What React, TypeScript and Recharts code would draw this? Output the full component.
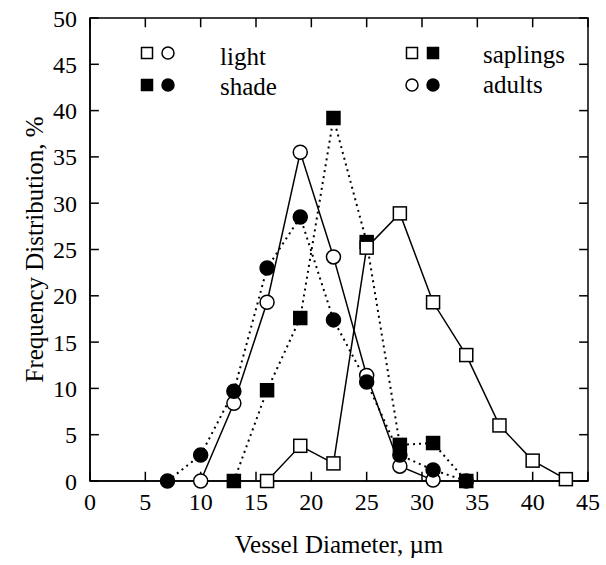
import { LineChart, Line, XAxis, YAxis, Label, ReferenceArea, ReferenceLine } from 'recharts';

const FONT = 'Liberation Serif, Times New Roman, serif';

// axis ticks
const xTicks = [0, 5, 10, 15, 20, 25, 30, 35, 40, 45];
const yTicks = [0, 5, 10, 15, 20, 25, 30, 35, 40, 45, 50];

// light saplings (open squares, solid)
const lightSaplingsX = [16, 19, 22, 25, 28, 31, 34, 37, 40, 43];
const lightSaplingsY = [0, 3.8, 1.9, 25.2, 28.9, 19.3, 13.6, 6.0, 2.2, 0.2];

// shade saplings (filled squares, dotted)
const shadeSaplingsX = [13, 16, 19, 22, 25, 28, 31, 34];
const shadeSaplingsY = [0, 9.8, 17.6, 39.2, 25.8, 3.9, 4.1, 0];

// light adults (open circles, solid)
const lightAdultsX = [10, 13, 16, 19, 22, 25, 28, 31];
const lightAdultsY = [0, 8.4, 19.3, 35.5, 24.2, 11.4, 1.6, 0.1];

// shade adults (filled circles, dotted)
const shadeAdultsX = [7, 10, 13, 16, 19, 22, 25, 28, 31, 34];
const shadeAdultsY = [0, 2.8, 9.7, 23.0, 28.5, 17.4, 10.7, 2.8, 1.2, 0];

const toRows = (xs: number[], ys: number[]) => xs.map((d, i) => ({ d, f: ys[i] }));

const squareDot = (filled: boolean, tag: string) => (p: any) => (
  <rect
    key={`${tag}-${p.index}`}
    x={p.cx - 6.5}
    y={p.cy - 6.5}
    width={13}
    height={13}
    fill={filled ? '#000' : '#fff'}
    stroke="#000"
    strokeWidth={1.5}
  />
);

const circleDot = (filled: boolean, tag: string) => (p: any) => (
  <circle
    key={`${tag}-${p.index}`}
    cx={p.cx}
    cy={p.cy}
    r={7}
    fill={filled ? '#000' : '#fff'}
    stroke="#000"
    strokeWidth={1.5}
  />
);

// inward tick length in data units (~9px each way)
const X_TICK_LEN = 0.8;
const Y_TICK_LEN = 1;

const tickFont = { fill: '#000', fontSize: 24, fontFamily: FONT };

function Legendary() {
  const txt = { fontSize: 25, fill: '#000', fontFamily: FONT };
  return (
    <svg
      width={606}
      height={565}
      style={{ position: 'absolute', left: 0, top: 0, pointerEvents: 'none' }}
    >
      <rect x={141.5} y={47.5} width={11} height={11} fill="#fff" stroke="#000" strokeWidth={1.5} />
      <circle cx={168} cy={53} r={6} fill="#fff" stroke="#000" strokeWidth={1.5} />
      <text x={220} y={65} {...txt}>light</text>
      <rect x={141.5} y={79.5} width={11} height={11} fill="#000" stroke="#000" strokeWidth={1.5} />
      <circle cx={168} cy={85} r={6} fill="#000" stroke="#000" strokeWidth={1.5} />
      <text x={220} y={95} {...txt}>shade</text>

      <rect x={406.5} y={47.5} width={11} height={11} fill="#fff" stroke="#000" strokeWidth={1.5} />
      <rect x={427.5} y={47.5} width={11} height={11} fill="#000" stroke="#000" strokeWidth={1.5} />
      <text x={483} y={63} {...txt}>saplings</text>
      <circle cx={412} cy={85} r={6} fill="#fff" stroke="#000" strokeWidth={1.5} />
      <circle cx={433} cy={85} r={6} fill="#000" stroke="#000" strokeWidth={1.5} />
      <text x={483} y={93} {...txt}>adults</text>
    </svg>
  );
}

export default function App() {
  return (
    <div style={{ position: 'fixed', left: 0, top: 0, width: 606, height: 565, background: '#fff' }}>
      <LineChart width={606} height={565} margin={{ top: 18, right: 18, left: 0, bottom: 0 }}>
        <XAxis
          dataKey="d"
          type="number"
          domain={[0, 45]}
          ticks={xTicks}
          interval={0}
          height={84}
          tickLine={false}
          tickMargin={6}
          tick={tickFont}
          stroke="#000"
          strokeWidth={1.5}
        >
          <Label
            value="Vessel Diameter, µm"
            position="insideBottom"
            offset={12}
            fill="#000"
            fontSize={25}
            fontFamily={FONT}
          />
        </XAxis>
        <YAxis
          type="number"
          domain={[0, 50]}
          ticks={yTicks}
          interval={0}
          width={90}
          tickLine={false}
          tickMargin={7}
          tick={tickFont}
          stroke="#000"
          strokeWidth={1.5}
        >
          <Label
            value="Frequency Distribution, %"
            angle={-90}
            position="insideLeft"
            offset={34}
            fill="#000"
            fontSize={25}
            fontFamily={FONT}
            style={{ textAnchor: 'middle' }}
          />
        </YAxis>

        {/* plot frame */}
        <ReferenceArea x1={0} x2={45} y1={0} y2={50} fill="none" stroke="#000" strokeWidth={1.5} />

        {/* inward tick marks on all four sides */}
        {xTicks.map((t) => (
          <ReferenceLine
            key={`xb-${t}`}
            segment={[{ x: t, y: 0 }, { x: t, y: Y_TICK_LEN }]}
            stroke="#000"
            strokeWidth={1.5}
          />
        ))}
        {xTicks.map((t) => (
          <ReferenceLine
            key={`xt-${t}`}
            segment={[{ x: t, y: 50 }, { x: t, y: 50 - Y_TICK_LEN }]}
            stroke="#000"
            strokeWidth={1.5}
          />
        ))}
        {yTicks.map((t) => (
          <ReferenceLine
            key={`yl-${t}`}
            segment={[{ x: 0, y: t }, { x: X_TICK_LEN, y: t }]}
            stroke="#000"
            strokeWidth={1.5}
          />
        ))}
        {yTicks.map((t) => (
          <ReferenceLine
            key={`yr-${t}`}
            segment={[{ x: 45, y: t }, { x: 45 - X_TICK_LEN, y: t }]}
            stroke="#000"
            strokeWidth={1.5}
          />
        ))}

        <Line
          data={toRows(shadeSaplingsX, shadeSaplingsY)}
          dataKey="f"
          stroke="#000"
          strokeWidth={2}
          strokeDasharray="2 4"
          dot={squareDot(true, 'ss')}
          activeDot={false}
          isAnimationActive={false}
        />
        <Line
          data={toRows(lightSaplingsX, lightSaplingsY)}
          dataKey="f"
          stroke="#000"
          strokeWidth={1.5}
          dot={squareDot(false, 'ls')}
          activeDot={false}
          isAnimationActive={false}
        />
        <Line
          data={toRows(lightAdultsX, lightAdultsY)}
          dataKey="f"
          stroke="#000"
          strokeWidth={1.5}
          dot={circleDot(false, 'la')}
          activeDot={false}
          isAnimationActive={false}
        />
        <Line
          data={toRows(shadeAdultsX, shadeAdultsY)}
          dataKey="f"
          stroke="#000"
          strokeWidth={2}
          strokeDasharray="2 4"
          dot={circleDot(true, 'sa')}
          activeDot={false}
          isAnimationActive={false}
        />
      </LineChart>
      <Legendary />
    </div>
  );
}
